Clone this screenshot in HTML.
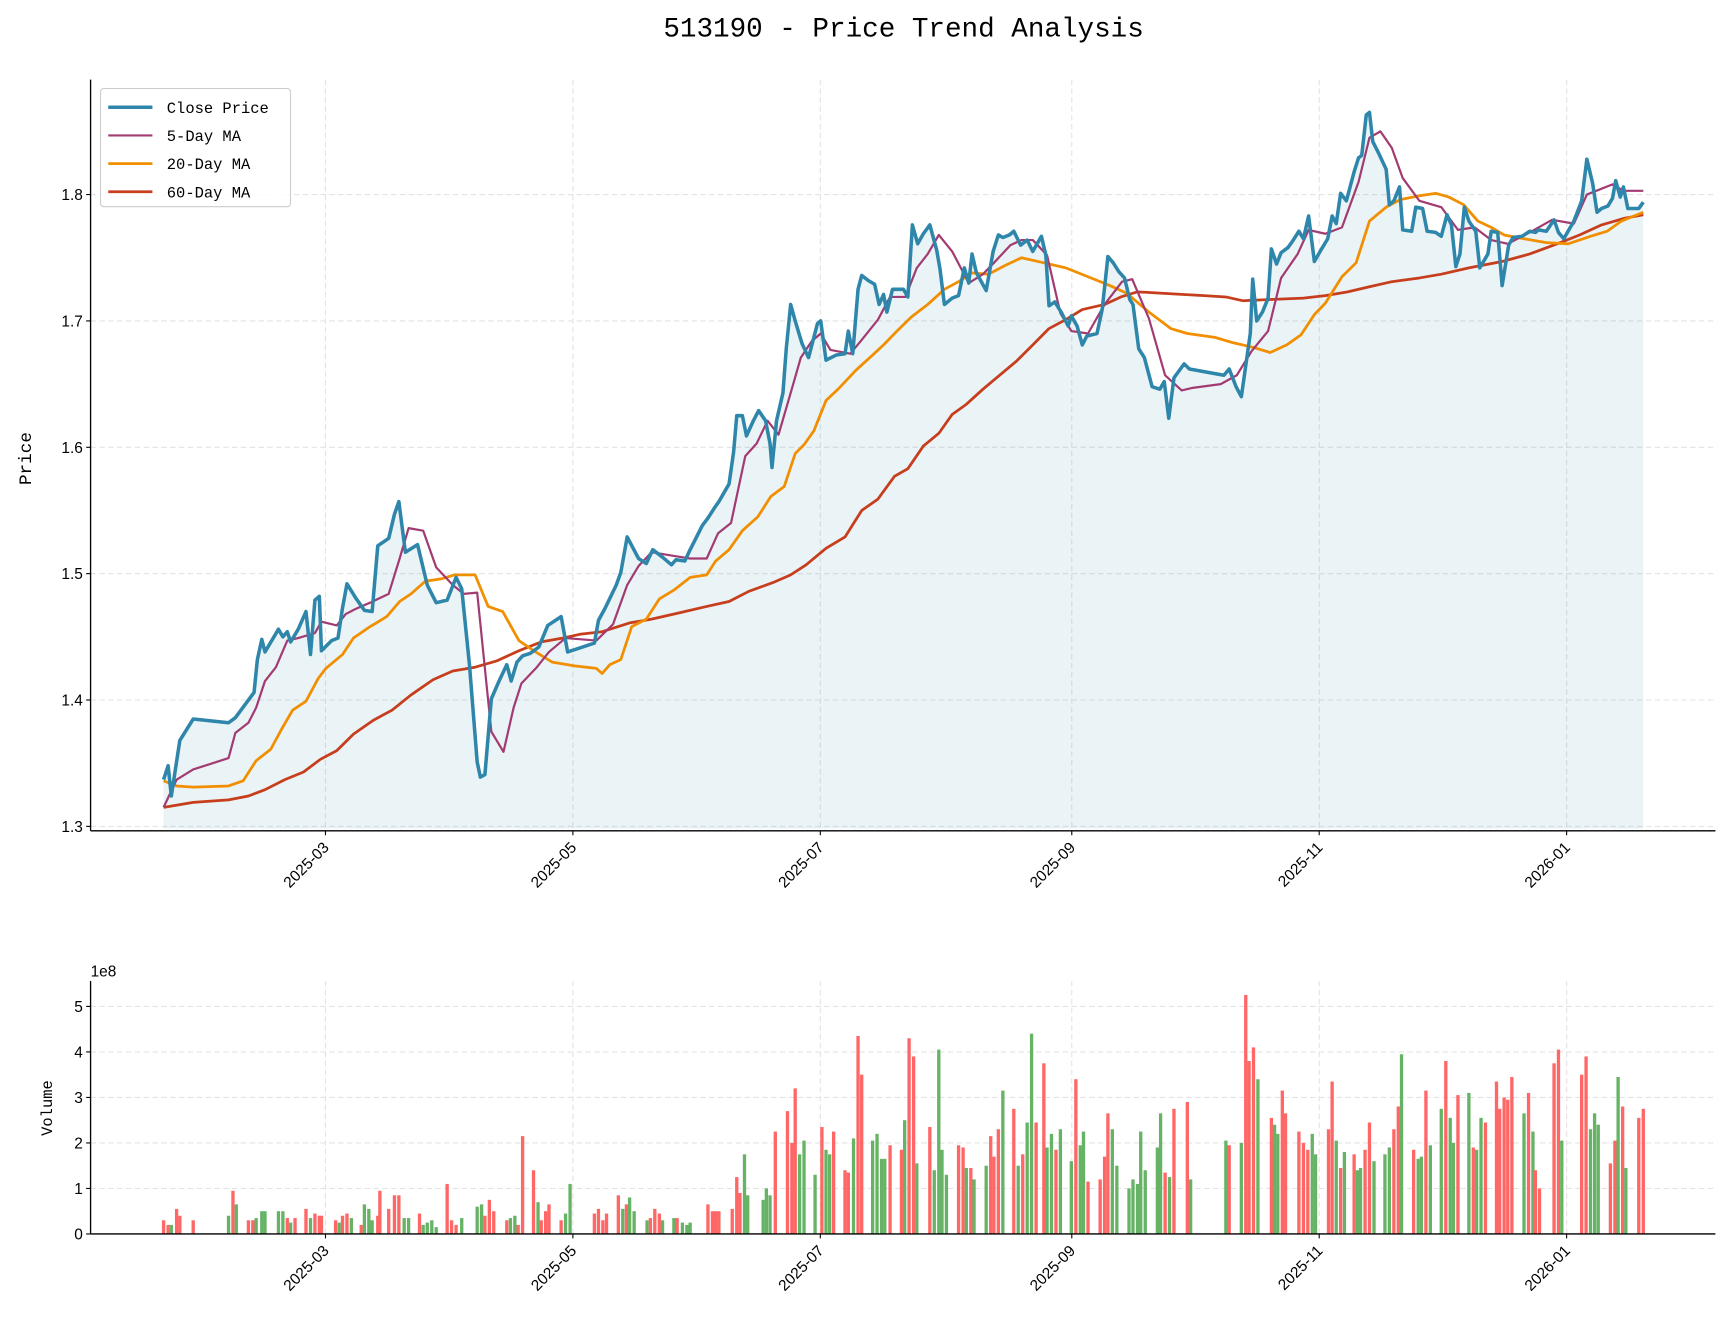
<!DOCTYPE html>
<html><head><meta charset="utf-8"><style>
body{margin:0;background:#fff}
svg{display:block}
text{font-family:"Liberation Sans","Noto Sans CJK SC",sans-serif;fill:#000}
.mono{font-family:"Liberation Mono","Noto Sans CJK SC",monospace}
</style></head><body>
<svg id="chart" xmlns="http://www.w3.org/2000/svg" width="1732" height="1328" viewBox="0 0 1568 1202">
<rect width="1568" height="1202" fill="#fff"/>
<text class="mono" x="818" y="33" font-size="25" text-anchor="middle">513190 - Price Trend Analysis</text>
<g id="topPanel"></g><g id="botPanel"></g>
</svg>
<script>
// days since 2025-01-01
const closeDays=[19.1,20.2,21.0,23.1,26.4,35.1,36.8,41.4,42.2,43.3,44.1,47.4,48.5,49.6,50.4,52.3,54.2,55.3,56.4,57.5,58.0,60.5,62.1,63.2,64.3,66.4,68.6,70.5,71.9,74.6,76.0,77.1,78.7,81.7,84.1,86.3,89.0,91.2,92.6,94.5,96.4,97.2,98.3,99.9,101.8,103.7,104.8,106.2,107.6,109.5,111.6,113.8,117.1,118.7,125.3,126.3,128.0,130.7,131.8,133.4,136.2,138.1,139.7,142.1,144.3,145.4,147.6,148.9,151.9,153.3,154.9,156.0,158.5,159.6,160.4,161.8,162.8,164.5,165.8,167.5,168.6,169.1,170.2,171.8,172.6,173.7,174.8,176.5,178.1,180.3,181.1,182.4,184.9,187.1,187.9,189.0,190.3,191.2,192.8,194.4,195.5,196.6,197.4,198.8,201.5,202.6,203.7,205.0,206.4,208.0,209.7,210.5,211.6,213.5,215.1,216.5,217.6,218.4,219.5,221.9,223.6,224.9,226.0,227.6,228.7,230.4,232.0,233.4,235.5,236.6,237.4,238.8,240.4,242.1,242.9,244.3,245.6,246.7,249.2,250.5,251.9,253.2,254.6,256.0,257.3,258.1,259.5,260.9,262.8,264.7,265.8,266.9,268.2,270.7,272.0,280.5,281.8,283.5,284.8,287.0,287.6,288.6,290.0,291.4,292.2,293.5,294.6,296.3,297.4,299.0,300.1,301.4,302.8,304.4,306.1,307.2,308.2,309.3,310.7,312.6,313.7,314.5,315.6,316.4,317.2,318.6,320.5,321.3,322.4,323.8,324.6,326.8,327.8,329.5,330.6,332.7,334.1,335.5,336.6,337.7,338.7,339.8,340.9,342.6,343.6,345.6,346.4,348.0,349.1,350.7,351.8,354.0,355.9,357.3,358.1,360.0,361.9,363.0,364.3,366.8,368.7,370.0,371.4,372.5,373.6,375.2,376.3,377.1,378.2,379.0,380.1,381.7,382.8,383.9];
const closeVals=[1.337,1.348,1.324,1.368,1.385,1.382,1.386,1.406,1.432,1.448,1.438,1.456,1.450,1.454,1.446,1.456,1.470,1.436,1.479,1.482,1.439,1.447,1.449,1.473,1.492,1.481,1.471,1.470,1.522,1.528,1.547,1.557,1.517,1.523,1.491,1.477,1.479,1.497,1.488,1.428,1.351,1.339,1.341,1.401,1.415,1.428,1.415,1.430,1.435,1.437,1.442,1.459,1.466,1.438,1.445,1.463,1.473,1.491,1.501,1.529,1.512,1.508,1.519,1.513,1.507,1.511,1.510,1.519,1.538,1.544,1.552,1.557,1.571,1.596,1.625,1.625,1.609,1.621,1.629,1.621,1.603,1.584,1.621,1.643,1.678,1.713,1.700,1.682,1.671,1.698,1.700,1.669,1.673,1.674,1.692,1.674,1.725,1.736,1.732,1.729,1.713,1.721,1.707,1.725,1.725,1.719,1.776,1.761,1.769,1.776,1.756,1.741,1.713,1.718,1.720,1.742,1.730,1.753,1.738,1.724,1.755,1.768,1.766,1.768,1.771,1.760,1.764,1.755,1.767,1.752,1.712,1.715,1.707,1.696,1.704,1.696,1.681,1.688,1.690,1.709,1.751,1.746,1.739,1.734,1.717,1.713,1.678,1.671,1.648,1.646,1.652,1.623,1.655,1.666,1.662,1.657,1.662,1.648,1.640,1.690,1.733,1.700,1.707,1.718,1.757,1.745,1.754,1.758,1.763,1.771,1.765,1.783,1.747,1.756,1.765,1.783,1.777,1.801,1.795,1.818,1.829,1.831,1.863,1.865,1.842,1.833,1.820,1.792,1.795,1.806,1.772,1.771,1.790,1.789,1.771,1.770,1.767,1.784,1.776,1.743,1.753,1.790,1.779,1.771,1.742,1.753,1.771,1.770,1.728,1.760,1.766,1.767,1.771,1.770,1.772,1.771,1.780,1.770,1.765,1.779,1.795,1.828,1.809,1.786,1.789,1.791,1.797,1.811,1.798,1.806,1.789,1.789,1.789,1.794];
const ma5Days=[19.1,22.3,26.4,35.1,36.8,40.0,41.9,44.1,46.8,49.6,52.3,56.4,58.0,61.8,64.0,66.4,70.0,74.6,77.3,79.5,83.1,86.3,90.4,93.1,96.4,99.9,102.9,105.4,107.3,111.1,114.1,118.2,125.8,129.9,133.4,136.2,139.4,144.9,148.9,153.0,155.8,159.0,162.5,165.3,168.0,170.7,173.7,176.2,178.9,181.1,183.5,188.4,191.2,195.2,198.2,202.0,204.8,207.5,210.2,213.5,217.6,221.1,223.8,227.9,230.6,233.4,236.9,240.2,242.9,247.0,251.1,255.4,257.9,262.0,266.0,270.1,272.8,279.7,283.7,287.3,291.4,294.6,298.7,301.4,305.5,309.6,313.7,316.4,319.1,321.9,324.6,328.7,334.1,338.2,342.3,346.4,350.5,355.9,361.4,366.8,370.0,376.3,379.0,383.9];
const ma5Vals=[1.315,1.337,1.345,1.354,1.374,1.382,1.394,1.415,1.426,1.447,1.449,1.453,1.462,1.459,1.468,1.472,1.477,1.484,1.512,1.536,1.534,1.505,1.491,1.484,1.485,1.375,1.359,1.394,1.413,1.426,1.438,1.449,1.447,1.460,1.491,1.506,1.517,1.514,1.512,1.512,1.532,1.540,1.593,1.603,1.621,1.610,1.643,1.671,1.684,1.690,1.677,1.674,1.685,1.701,1.719,1.719,1.742,1.753,1.768,1.755,1.730,1.737,1.746,1.760,1.764,1.764,1.752,1.706,1.692,1.690,1.713,1.731,1.733,1.702,1.657,1.645,1.647,1.650,1.657,1.676,1.692,1.734,1.753,1.772,1.769,1.774,1.810,1.845,1.850,1.837,1.813,1.795,1.790,1.772,1.774,1.764,1.761,1.770,1.780,1.777,1.800,1.808,1.803,1.803];
const ma20Days=[19.1,22.3,26.4,35.1,38.7,41.9,45.5,48.2,50.9,54.2,57.2,59.1,63.2,65.9,70.0,74.1,77.3,80.1,83.6,87.7,90.9,95.9,99.1,102.7,106.7,110.8,114.9,120.4,125.8,127.2,129.1,131.8,134.5,138.1,141.3,144.9,148.9,153.0,155.2,158.5,161.8,165.6,168.8,172.1,174.8,177.0,179.4,182.4,185.7,189.8,193.9,196.6,199.9,203.4,207.5,211.6,215.1,218.4,222.5,226.6,230.6,236.1,241.5,247.0,252.4,256.5,262.0,267.4,271.5,278.3,282.4,287.8,291.9,296.0,299.5,302.8,305.5,309.6,313.1,316.4,320.5,324.0,328.7,332.7,336.0,339.6,343.1,346.4,349.6,354.5,360.0,365.4,370.9,375.0,378.5,383.9];
const ma20Vals=[1.336,1.332,1.331,1.332,1.336,1.352,1.361,1.377,1.392,1.399,1.417,1.425,1.436,1.449,1.458,1.466,1.478,1.484,1.494,1.496,1.499,1.499,1.474,1.470,1.447,1.438,1.430,1.427,1.425,1.421,1.428,1.432,1.458,1.464,1.480,1.487,1.497,1.499,1.510,1.519,1.534,1.545,1.561,1.569,1.595,1.602,1.613,1.637,1.647,1.661,1.673,1.681,1.692,1.703,1.713,1.725,1.731,1.738,1.737,1.744,1.750,1.746,1.742,1.735,1.728,1.722,1.707,1.694,1.690,1.687,1.683,1.679,1.675,1.681,1.689,1.705,1.714,1.735,1.746,1.779,1.790,1.796,1.799,1.801,1.798,1.792,1.779,1.774,1.768,1.765,1.762,1.761,1.767,1.771,1.779,1.786];
const ma60Days=[19.1,26.4,35.1,40.0,44.1,49.0,53.6,57.7,61.8,65.9,70.8,75.4,80.1,85.5,90.4,95.9,101.3,106.7,112.2,117.6,121.7,127.2,134.0,139.4,146.2,153.0,158.5,163.4,169.4,173.7,177.5,182.4,187.1,191.2,195.2,199.3,202.6,206.4,210.2,213.5,217.0,221.1,225.2,229.3,233.4,237.4,241.5,245.6,251.1,255.1,259.2,264.7,270.1,275.6,281.0,285.1,291.9,300.1,305.5,311.0,316.4,321.9,328.7,334.1,340.9,349.1,355.9,362.7,368.2,373.6,379.0,383.9];
const ma60Vals=[1.315,1.319,1.321,1.324,1.329,1.337,1.343,1.353,1.360,1.373,1.384,1.392,1.404,1.416,1.423,1.426,1.431,1.439,1.446,1.449,1.452,1.454,1.461,1.464,1.469,1.474,1.478,1.486,1.493,1.499,1.507,1.520,1.529,1.550,1.559,1.577,1.583,1.601,1.611,1.626,1.634,1.646,1.657,1.668,1.681,1.694,1.701,1.709,1.713,1.719,1.723,1.722,1.721,1.720,1.719,1.716,1.717,1.718,1.720,1.723,1.727,1.731,1.734,1.737,1.742,1.747,1.753,1.761,1.768,1.776,1.781,1.784];
const volDays=[19.1,20.2,21.0,22.3,23.1,26.4,35.1,36.2,37.0,40.0,41.1,41.9,43.3,44.1,47.4,48.5,49.6,50.4,51.5,54.2,55.3,56.4,57.5,58.0,61.5,62.4,63.2,64.3,65.4,67.8,68.6,69.7,70.5,71.9,72.4,74.6,76.0,77.1,78.4,79.5,82.2,83.1,84.1,85.2,86.3,89.0,90.1,91.2,92.6,96.4,97.5,98.3,99.4,100.5,103.7,104.6,105.7,106.5,107.6,110.3,111.4,112.2,113.3,114.1,117.1,118.2,119.3,125.3,126.3,127.4,128.3,131.2,132.3,133.2,134.0,135.1,138.3,139.1,140.2,141.3,142.1,144.9,145.7,147.0,148.1,148.9,153.3,154.4,155.2,156.0,159.3,160.4,161.2,162.3,163.1,166.9,167.7,168.6,169.9,172.9,174.0,174.8,175.9,177.0,179.7,181.4,182.4,183.3,184.3,187.1,187.9,189.2,190.3,191.2,193.9,195.0,196.1,196.9,198.2,201.0,201.8,202.9,204.0,204.8,208.0,209.1,210.2,211.0,212.1,215.1,216.2,217.0,218.1,218.9,221.9,223.0,223.8,224.9,226.0,228.7,229.8,230.9,232.0,233.1,234.2,236.1,236.9,238.0,239.1,240.2,242.9,244.0,245.1,245.9,247.0,250.0,251.1,251.9,253.0,254.1,257.1,258.1,259.2,260.0,261.1,264.1,264.9,266.0,267.1,268.2,271.5,272.3,281.0,281.8,284.8,285.9,286.7,287.8,288.9,292.2,293.0,293.8,294.9,295.7,299.0,300.1,301.2,302.3,303.1,306.3,307.2,308.2,309.3,310.2,312.6,313.4,314.2,315.3,316.4,317.5,320.2,321.3,322.4,323.5,324.3,327.3,328.4,329.2,330.3,331.4,334.1,335.2,336.3,337.1,338.2,340.9,342.0,342.8,343.9,345.0,347.7,348.5,349.6,350.5,351.5,354.5,355.6,356.7,357.3,358.3,361.9,363.0,363.8,368.7,369.8,370.9,371.9,372.8,375.8,376.9,377.7,378.8,379.6,382.8,383.9];
const volVals=[0.3,0.2,0.2,0.55,0.4,0.3,0.4,0.95,0.65,0.3,0.3,0.35,0.5,0.5,0.5,0.5,0.35,0.25,0.35,0.55,0.35,0.45,0.4,0.4,0.3,0.25,0.4,0.45,0.35,0.2,0.65,0.55,0.3,0.4,0.95,0.55,0.85,0.85,0.35,0.35,0.45,0.2,0.25,0.3,0.15,1.1,0.3,0.2,0.35,0.6,0.65,0.4,0.75,0.5,0.3,0.35,0.4,0.2,2.15,1.4,0.7,0.3,0.5,0.65,0.3,0.45,1.1,0.45,0.55,0.3,0.45,0.85,0.55,0.65,0.8,0.5,0.3,0.35,0.55,0.45,0.3,0.35,0.35,0.25,0.2,0.25,0.65,0.5,0.5,0.5,0.55,1.25,0.9,1.75,0.85,0.75,1.0,0.85,2.25,2.7,2.0,3.2,1.75,2.05,1.3,2.35,1.85,1.75,2.25,1.4,1.35,2.1,4.35,3.5,2.05,2.2,1.65,1.65,1.95,1.85,2.5,4.3,3.9,1.55,2.35,1.4,4.05,1.85,1.3,1.95,1.9,1.45,1.45,1.2,1.5,2.15,1.7,2.3,3.15,2.75,1.5,1.75,2.45,4.4,2.45,3.75,1.9,2.2,1.85,2.3,1.6,3.4,1.95,2.25,1.15,1.2,1.7,2.65,2.3,1.5,1.0,1.2,1.1,2.25,1.4,1.9,2.65,1.35,1.25,2.75,2.9,1.2,2.05,1.95,2.0,5.25,3.8,4.1,3.4,2.55,2.4,2.2,3.15,2.65,2.25,2.0,1.85,2.2,1.75,2.3,3.35,2.05,1.45,1.8,1.75,1.4,1.45,1.85,2.45,1.6,1.75,1.9,2.3,2.8,3.95,1.85,1.65,1.7,3.15,1.95,2.75,3.8,2.55,2.0,3.05,3.1,1.9,1.85,2.55,2.45,3.35,2.75,3.0,2.95,3.45,2.65,3.1,2.25,1.4,1.0,3.75,4.05,2.05,3.5,3.9,2.3,2.65,2.4,1.55,2.05,3.45,2.8,1.45,2.55,2.75];
const volUp="rrgrrrgrgr"+"rgggggrgrr"+"grrrrgrrgr"+"gggrrrrrgg"+"rggggrrrgg"+"grrrrggrrr"+"grrrrggrrr"+"rrgrgggrrr"+"ggrgggrrrr"+"rrrgggggrr"+"rrgggrggrr"+"rgrrggggrr"+"grrgrggggr"+"rgrggrrrgr"+"grggrrggrg"+"grggrrrrgg"+"gggggggrgr"+"rggrgrrrgr"+"ggrrrrrggr"+"rgrgrggrrg"+"ggrrgrggrg"+"grggrgrggr"+"rrrrrgrgrr"+"rrgrrgggrr"+"grgrr";
const yTicksTop=[1.3,1.4,1.5,1.6,1.7,1.8];
const yTicksBot=[0,1,2,3,4,5];
const monthDays=[59,120,181,243,304,365];
const monthLabels=["2025-03","2025-05","2025-07","2025-09","2025-11","2026-01"];

const NS="http://www.w3.org/2000/svg";
const X0=82,X1=1553;
const xS=d=>78+d*3.672;
const yT=v=>748-(v-1.3)*1144;
const yB=v=>1117-v*41.2;
function mk(tag,attrs,parent,txt){const e=document.createElementNS(NS,tag);for(const k in attrs)e.setAttribute(k,attrs[k]);if(txt!==undefined)e.textContent=txt;parent.appendChild(e);return e;}
const topG=document.getElementById('topPanel'),botG=document.getElementById('botPanel');

function grid(g,y0,y1,ticks,ys,nm){
  monthDays.forEach((d,i)=>{
    const l=mk('line',{x1:xS(d),x2:xS(d),y1:y0,y2:y1,stroke:'#e3e3e3','stroke-dasharray':'5,3','stroke-width':1},g);
    
    
  });
  ticks.forEach(v=>{
    const l=mk('line',{x1:X0,x2:X1,y1:ys(v),y2:ys(v),stroke:'#e3e3e3','stroke-dasharray':'5,3','stroke-width':1},g);
    
    
  });
}
function axes(g,y0,y1,ticks,ys,fmt,nm){
  ticks.forEach(v=>{
    mk('line',{x1:X0-4,x2:X0,y1:ys(v),y2:ys(v),stroke:'#000'},g);
    const t=mk('text',{x:X0-7,y:ys(v)+5,'font-size':14,'text-anchor':'end'},g,fmt(v));
    
    
  });
  monthDays.forEach((d,i)=>{
    const x=xS(d);
    mk('line',{x1:x,x2:x,y1:y1,y2:y1+4,stroke:'#000'},g);
    const t=mk('text',{x:x+4,y:y1+16,'font-size':14,'text-anchor':'end',transform:`rotate(-45 ${x+4} ${y1+16})`},g,monthLabels[i]);
    
    
  });
  mk('line',{x1:X0,x2:X0,y1:y0,y2:y1,stroke:'#000','stroke-width':1.2},g);
  mk('line',{x1:X0,x2:X1,y1:y1,y2:y1,stroke:'#000','stroke-width':1.2},g);
}
// top panel
grid(topG,72,752,yTicksTop,yT,'price');
let area=`M${xS(closeDays[0])},750`;
closeDays.forEach((d,i)=>area+=`L${xS(d).toFixed(1)},${yT(closeVals[i]).toFixed(1)}`);
area+=`L${xS(closeDays[closeDays.length-1])},750Z`;
const ar=mk('path',{d:area,fill:'#2E86AB','fill-opacity':0.1},topG);


function line(days,vals,col,w,nm){
  const p=days.map((d,i)=>`${i?'L':'M'}${xS(d).toFixed(1)},${yT(vals[i]).toFixed(1)}`).join('');
  const e=mk('path',{d:p,fill:'none',stroke:col,'stroke-width':w,'stroke-linejoin':'round'},topG);
  
  
}
line(ma60Days,ma60Vals,'#C73E1D',2.5,'ma60-line');
line(ma20Days,ma20Vals,'#F18F01',2.5,'ma20-line');
line(ma5Days,ma5Vals,'#A23B72',2,'ma5-line');
line(closeDays,closeVals,'#2E86AB',3.2,'close-price-line');
axes(topG,72,752,yTicksTop,yT,v=>v.toFixed(1),'price');
const yl=mk('text',{x:28,y:415,'font-size':16,'text-anchor':'middle',transform:'rotate(-90 28 415)',class:'mono'},topG,'Price');


// legend
const lg=mk('g',{},topG);


mk('rect',{x:91,y:80,width:172,height:107,rx:3,fill:'#fff','fill-opacity':0.85,stroke:'#ccc'},lg);
[['Close Price','#2E86AB',3.2],['5-Day MA','#A23B72',2],['20-Day MA','#F18F01',2.5],['60-Day MA','#C73E1D',2.5]].forEach((it,i)=>{
  const y=97+i*25.5;
  const ent=mk('g',{},lg);
  
  
  mk('line',{x1:98,x2:138,y1:y,y2:y,stroke:it[1],'stroke-width':it[2]},ent);
  mk('text',{x:151,y:y+5,'font-size':14,class:'mono'},ent,it[0]);
});
// bottom panel
grid(botG,888,1117,yTicksBot,yB,'volume');
volDays.forEach((d,i)=>{
  const up=volUp[i]==='r';
  const b=mk('rect',{x:(xS(d)-1.5).toFixed(1),y:yB(volVals[i]).toFixed(1),width:3,height:(volVals[i]*41.2).toFixed(1),fill:up?'#FF6666':'#66B366'},botG);
  
  
});
axes(botG,888,1117,yTicksBot,yB,v=>String(v),'volume');
const e8=mk('text',{x:82,y:884,'font-size':14},botG,'1e8');


const vl=mk('text',{x:47,y:1003,'font-size':14,'text-anchor':'middle',transform:'rotate(-90 47 1003)',class:'mono'},botG,'Volume');


</script>
</body></html>
